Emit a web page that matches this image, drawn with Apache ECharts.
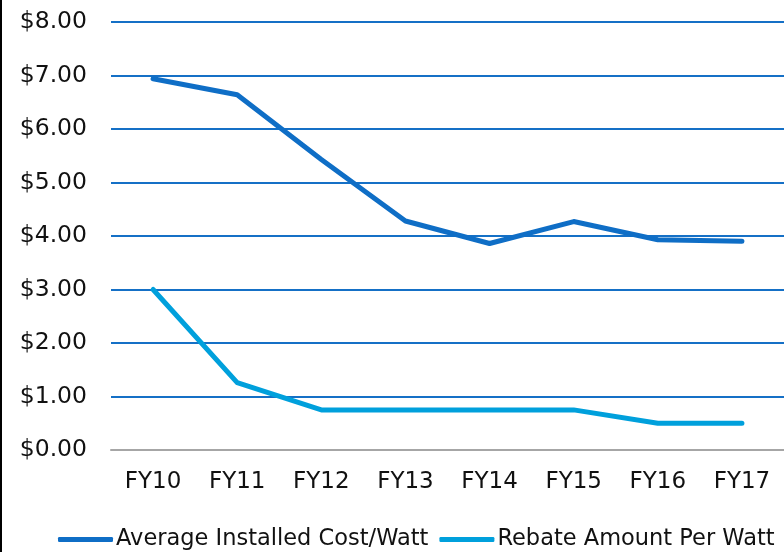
<!DOCTYPE html>
<html>
<head>
<meta charset="utf-8">
<style>
  html, body { margin: 0; padding: 0; background: #fff; }
  #chart { width: 784px; height: 552px; }
</style>
<script src="https://cdn.jsdelivr.net/npm/echarts@6/dist/echarts.min.js"></script>
</head>
<body>
<div id="chart"></div>
<script>
// Fiscal years on the category axis
const categories = ['FY10', 'FY11', 'FY12', 'FY13', 'FY14', 'FY15', 'FY16', 'FY17'];
// Dollars per watt
const avgInstalledCost = [6.94, 6.64, 5.43, 4.28, 3.86, 4.27, 3.93, 3.90];
const rebatePerWatt = [3.00, 1.26, 0.75, 0.75, 0.75, 0.75, 0.50, 0.50];
const seriesNames = ['Average Installed Cost/Watt', 'Rebate Amount Per Watt'];

const FONT = '"DejaVu Sans", Verdana, sans-serif';
const chart = echarts.init(document.getElementById('chart'));

chart.setOption({
  animation: false,
  backgroundColor: '#ffffff',
  color: ['#0F6EC6', '#00A0DC'],
  graphic: [{
    type: 'rect',
    left: 0, top: 0,
    shape: { width: 2, height: 552 },
    style: { fill: '#000000' }
  }],
  grid: { left: 111, right: 0, top: 22, bottom: 102, containLabel: false },
  legend: {
    top: 523,
    left: 53,
    icon: 'roundRect',
    itemWidth: 55,
    itemHeight: 5,
    itemGap: 11,
    textStyle: { fontFamily: FONT, fontSize: 22.5, color: '#111', padding: [0, 0, 0, -2] },
    data: seriesNames
  },
  xAxis: {
    type: 'category',
    data: categories,
    boundaryGap: true,
    axisLine: { show: true, lineStyle: { color: '#A6A6A6', width: 2 } },
    axisTick: { show: false },
    axisLabel: { fontFamily: FONT, fontSize: 23, color: '#111', margin: 21 }
  },
  yAxis: {
    type: 'value',
    min: 0, max: 8, interval: 1,
    axisLine: { show: false },
    axisTick: { show: false },
    splitLine: { lineStyle: { color: '#1570C6', width: 2 } },
    axisLabel: {
      fontFamily: FONT, fontSize: 23.5, color: '#111', margin: 24,
      formatter: v => '$' + v.toFixed(2)
    }
  },
  series: [
    {
      name: seriesNames[0],
      type: 'line',
      data: avgInstalledCost,
      showSymbol: false,
      lineStyle: { width: 5, cap: 'round', join: 'round' },
      z: 3
    },
    {
      name: seriesNames[1],
      type: 'line',
      data: rebatePerWatt,
      showSymbol: false,
      lineStyle: { width: 5, cap: 'round', join: 'round' },
      z: 3
    }
  ]
});
</script>
</body>
</html>
